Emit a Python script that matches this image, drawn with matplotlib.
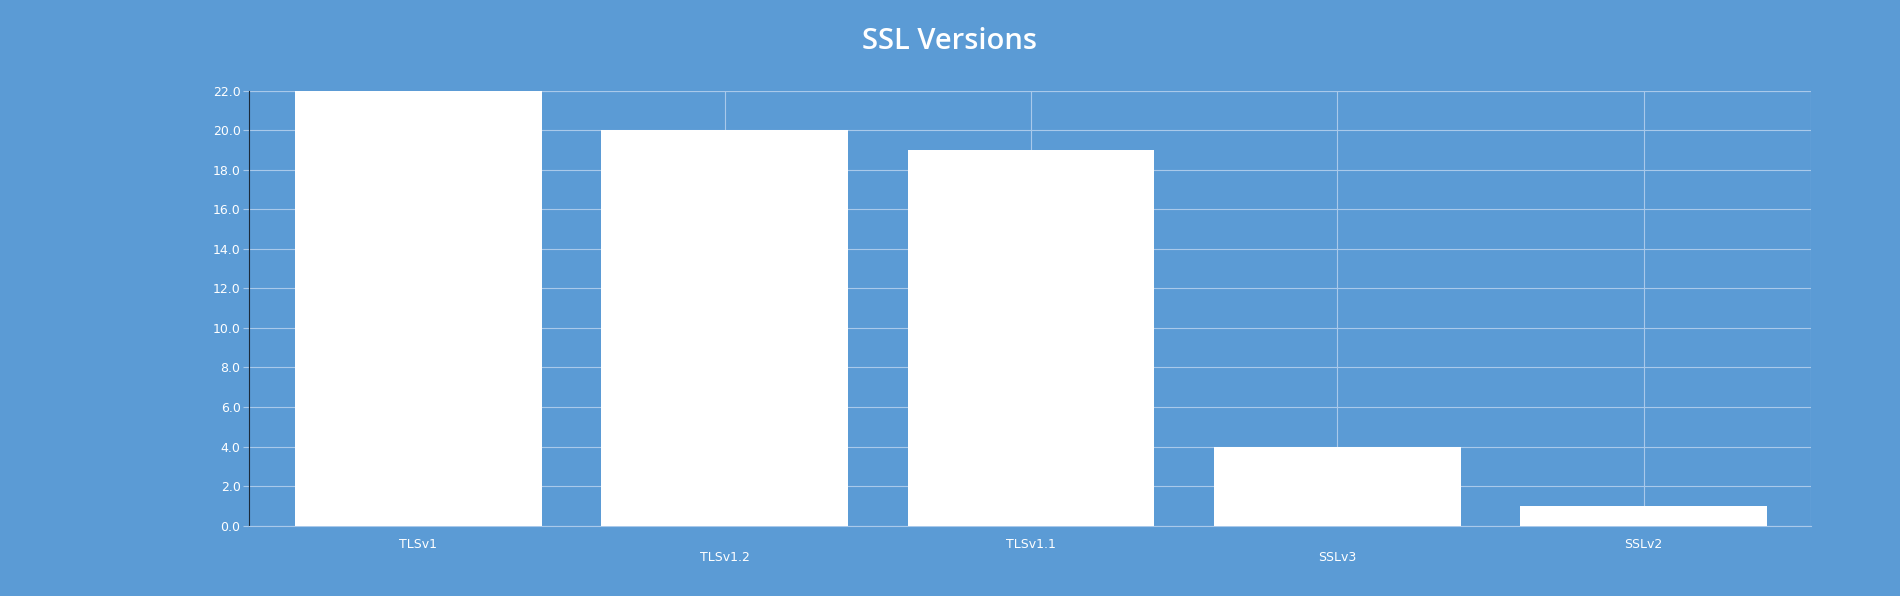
import matplotlib.pyplot as plt
import numpy as np

versions = ["TLSv1", "TLSv1.2", "TLSv1.1", "SSLv3", "SSLv2"]
counts = [22, 20, 19, 4, 1]
y_ticks = np.arange(0, 24, 2)

bg = "#5b9bd5"
grid = "#a9c9ea"

fig = plt.figure(figsize=(19, 5.96), dpi=100, facecolor=bg)
ax = fig.add_axes([0.131, 0.118, 0.822, 0.730], facecolor=bg)

x = np.arange(len(versions))
ax.bar(x, counts, width=0.806, color="white", zorder=3)

ax.set_xlim(-0.553, len(versions) - 0.455)
ax.set_ylim(0, 22)
ax.set_yticks(y_ticks)
ax.set_yticklabels([f"{v:.1f}" for v in y_ticks], color="white", fontsize=9)
ax.set_xticks(x)
ax.set_xticklabels([])
for i, v in enumerate(versions):
    ax.text(i, -0.6 if i % 2 == 0 else -1.3, v, ha="center", va="top",
            color="white", fontsize=9)

ax.yaxis.grid(True, color=grid, linewidth=0.8, zorder=0)
for i in x[1:]:
    ax.axvline(i, color=grid, linewidth=0.8, zorder=0)
ax.axhline(22, color=grid, linewidth=0.8, zorder=0)
ax.axvline(ax.get_xlim()[1], color=grid, linewidth=0.8, zorder=0)

ax.tick_params(axis="x", length=0)
ax.tick_params(axis="y", length=4, color=grid, pad=2)
for s in ["top", "right"]:
    ax.spines[s].set_visible(False)
ax.spines["bottom"].set_color(grid)
ax.spines["left"].set_color("#1a2a3a")

fig.suptitle("SSL Versions", y=0.955, color="white", fontsize=21,
             fontfamily="Open Sans", fontweight="semibold")

fig.savefig("out.png", facecolor=bg)
